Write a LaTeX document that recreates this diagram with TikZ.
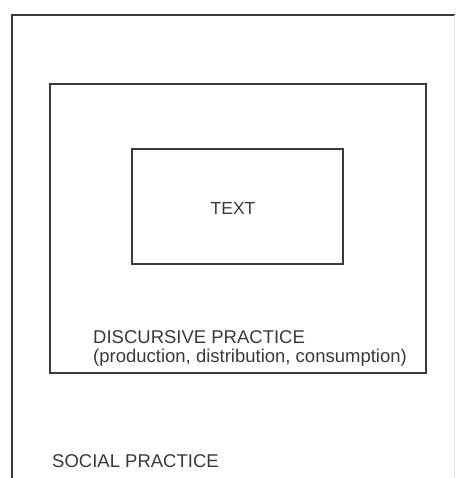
\documentclass[tikz,border=0pt]{standalone}
\usepackage{fontspec}
\setmainfont{Liberation Sans}
\definecolor{inkgray}{HTML}{3A3A3A}
\begin{document}
\begin{tikzpicture}[x=1pt,y=1pt]
\tikzstyle{every node}+=[inner sep=0pt, text=inkgray, font=\fontsize{18.5}{19}\selectfont]
\tikzstyle{frame}=[draw=inkgray, line width=1.2pt]
\useasboundingbox (0,0) rectangle (458,-478);
\fill [white] (0,0) rectangle (458,-478);
% social practice (open at the bottom)
\draw [frame] (12,-480) -- (12,-15) -- (455,-15);
\draw [black!12, line width=0.8pt] (454,-15) -- (454,-480);
% discursive practice
\draw [frame] (50,-84) rectangle (426,-373);
% text
\draw [frame] (132,-149) rectangle (343,-264);
\node [font=\fontsize{17.5}{19}\selectfont] (text) at (233,-208.5) {TEXT};
\node [anchor=base west] (disc) at (93,-343) {DISCURSIVE PRACTICE};
\node [anchor=base west] (discsub) at (93,-362) {(production, distribution, consumption)};
\node [anchor=base west] (social) at (52,-467) {SOCIAL PRACTICE};
\end{tikzpicture}
\end{document}
